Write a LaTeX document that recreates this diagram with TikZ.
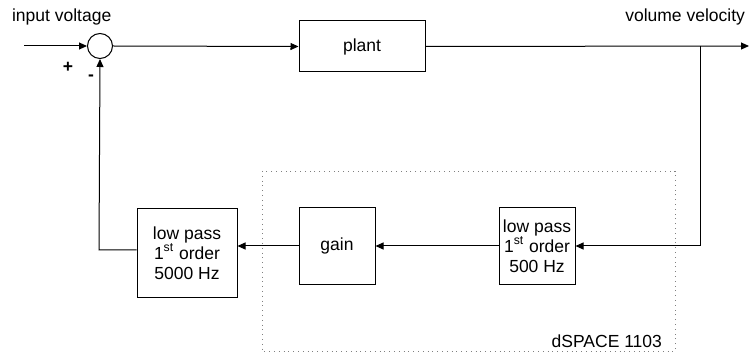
\documentclass[tikz,border=0pt]{standalone}
\usepackage{fontspec}
\setmainfont{Liberation Sans}
\usetikzlibrary{arrows.meta,calc}
\begin{document}
\begin{tikzpicture}[x=0.5pt,y=-0.5pt,
  every node/.style={font=\fontsize{8.75}{10}\selectfont},
  blk/.style={draw,line width=0.5pt,inner sep=0pt,align=center},
  wire/.style={line width=0.5pt},
  arr/.style={wire,-{Triangle[length=4pt,width=3.5pt]}}]
\useasboundingbox (0,0) rectangle (749,352);
% dSPACE frame
\draw[gray,dotted,line width=0.4pt] (262,171) rectangle (675,351);
\node[anchor=east] (dlab) at (669,341) {dSPACE 1103};
% nodes
\node[draw,circle,line width=0.5pt,minimum size=12.5pt,inner sep=0pt] (sum) at (100,46) {};
\node[blk,minimum width=63pt,minimum height=25.5pt] (plant) at (362,46.5) {plant};
\node[blk,minimum width=38pt,minimum height=38pt] (lp500) at (537,246) {low pass\\1\textsuperscript{st} order\\500 Hz};
\node[blk,minimum width=38pt,minimum height=38pt] (gain) at (337,246) {gain};
\node[blk,minimum width=50pt,minimum height=44pt] (lp5000) at (187,253) {low pass\\1\textsuperscript{st} order\\5000 Hz};
\coordinate (in) at (24,46);
\coordinate (out) at (749,46);
\coordinate (br) at (700,46);
\coordinate (fb) at (99,250);
% labels
\node[anchor=west] (lin) at (5,17) {input voltage};
\node[anchor=east] (lout) at (752,17) {volume velocity};
\node[font=\fontsize{8.75}{10}\selectfont\bfseries] (plus) at (68,67) {+};
\node[font=\fontsize{8.75}{10}\selectfont\bfseries] (minus) at (91,78) {-};
% connectors
\draw[arr] (in) -- (sum.west);
\draw[arr] (sum.east) -- (plant.west);
\draw[arr] (plant.east) -- (out);
\draw[arr] (br) |- (lp500.east);
\draw[arr] (lp500.west) -- (gain.east);
\draw[arr] (gain.west) -- (gain.west -| lp5000.east);
\draw[arr] (lp5000.west |- fb) -- (fb) -- (sum.south);
\end{tikzpicture}
\end{document}
